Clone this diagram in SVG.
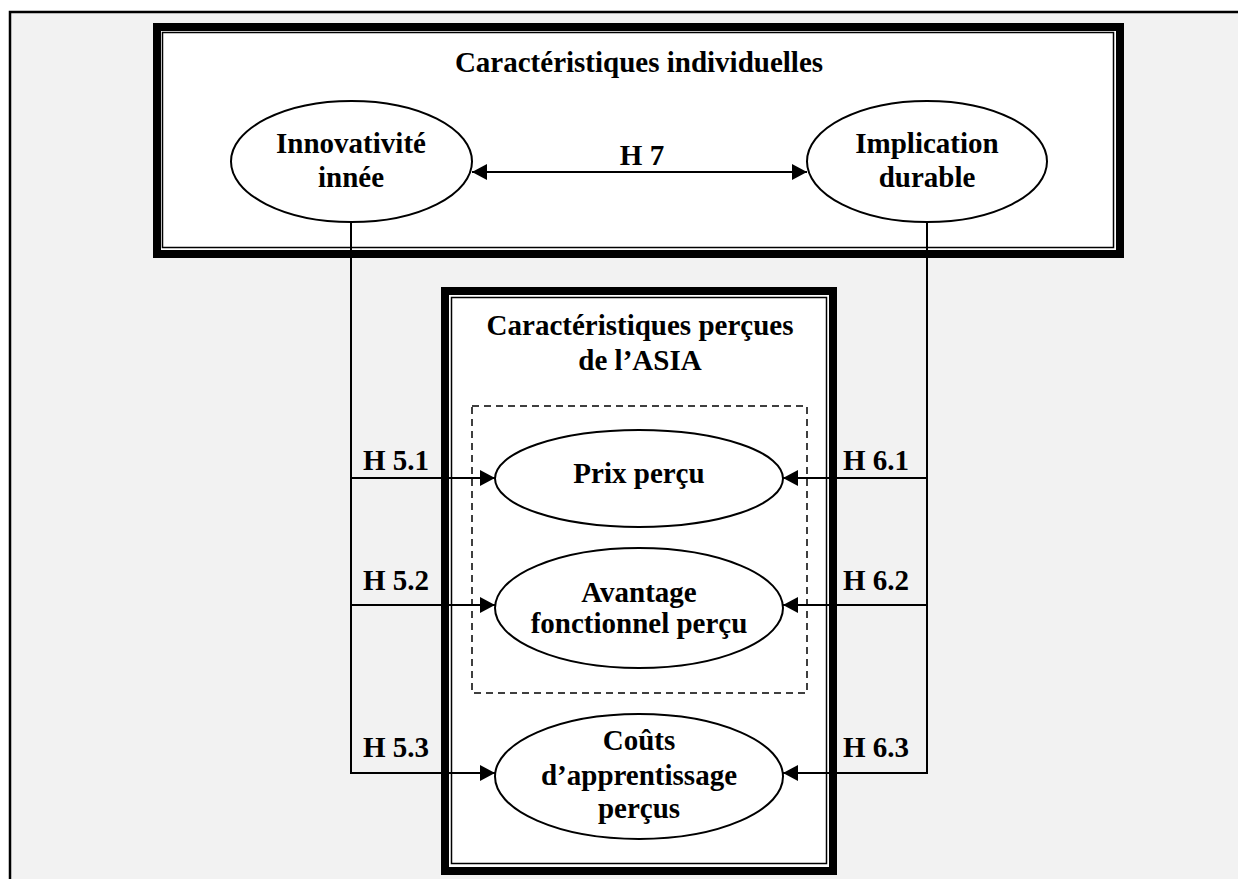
<svg xmlns="http://www.w3.org/2000/svg" width="1238" height="879" viewBox="0 0 1238 879">
<style>
text{font-family:"Liberation Serif","Times New Roman",serif;font-weight:bold;font-size:29px;fill:#000;text-anchor:middle}
.lbl{text-anchor:start}
.ell{fill:#fff;stroke:#000;stroke-width:2}
.con{fill:none;stroke:#000;stroke-width:2}
</style>
<defs>
<marker id="ah" markerUnits="userSpaceOnUse" markerWidth="16" markerHeight="18" refX="15" refY="8" orient="auto-start-reverse" viewBox="0 0 16 16">
<path d="M0,0 L15,8 L0,16 Z" fill="#000"/>
</marker>
</defs>
<rect x="0" y="0" width="1238" height="879" fill="#fff"/>
<rect x="10" y="12" width="1260" height="900" fill="#f2f2f2" stroke="#000" stroke-width="2.5"/>

<g id="box-individuelles">
<rect x="157" y="27" width="963" height="227" fill="#fff" stroke="#000" stroke-width="8"/>
<rect x="162.5" y="32.5" width="951" height="215" fill="none" stroke="#000" stroke-width="1.5"/>
<text x="639" y="72">Caractéristiques individuelles</text>
</g>

<g id="box-asia">
<rect x="445" y="291" width="388" height="580" fill="#fff" stroke="#000" stroke-width="8"/>
<rect x="451.5" y="297.5" width="375" height="566" fill="none" stroke="#000" stroke-width="1.5"/>
<text x="640" y="335">Caractéristiques perçues</text>
<text x="640" y="370">de l’ASIA</text>
<rect x="472" y="406" width="335" height="287" fill="none" stroke="#000" stroke-width="1.5" stroke-dasharray="7,5"/>
</g>

<g id="connectors">
<line class="con" x1="472" y1="172" x2="807" y2="172" marker-start="url(#ah)" marker-end="url(#ah)"/>
<path class="con" d="M351,222 V773 H495" marker-end="url(#ah)"/>
<path class="con" d="M351,478 H495" marker-end="url(#ah)"/>
<path class="con" d="M351,605 H495" marker-end="url(#ah)"/>
<path class="con" d="M927,222 V773 H783" marker-end="url(#ah)"/>
<path class="con" d="M927,478 H783" marker-end="url(#ah)"/>
<path class="con" d="M927,605 H783" marker-end="url(#ah)"/>
<text x="642" y="165">H 7</text>
<text class="lbl" x="363" y="470">H 5.1</text>
<text class="lbl" x="363" y="590">H 5.2</text>
<text class="lbl" x="363" y="757">H 5.3</text>
<text class="lbl" x="843" y="470">H 6.1</text>
<text class="lbl" x="843" y="590">H 6.2</text>
<text class="lbl" x="843" y="757">H 6.3</text>
</g>

<g id="node-innovativite">
<ellipse class="ell" cx="351.5" cy="161.5" rx="120.5" ry="60.5"/>
<text x="351" y="153">Innovativité</text>
<text x="351" y="187">innée</text>
</g>
<g id="node-implication">
<ellipse class="ell" cx="927" cy="161.5" rx="120" ry="60.5"/>
<text x="927" y="153">Implication</text>
<text x="927" y="187">durable</text>
</g>
<g id="node-prix">
<ellipse class="ell" cx="639" cy="478.5" rx="144" ry="48.5"/>
<text x="639" y="483">Prix perçu</text>
</g>
<g id="node-avantage">
<ellipse class="ell" cx="639" cy="608" rx="144" ry="60"/>
<text x="639" y="602">Avantage</text>
<text x="639" y="633">fonctionnel perçu</text>
</g>
<g id="node-couts">
<ellipse class="ell" cx="639" cy="776.5" rx="144" ry="62.5"/>
<text x="639" y="750">Coûts</text>
<text x="639" y="785">d’apprentissage</text>
<text x="639" y="818">perçus</text>
</g>
</svg>
